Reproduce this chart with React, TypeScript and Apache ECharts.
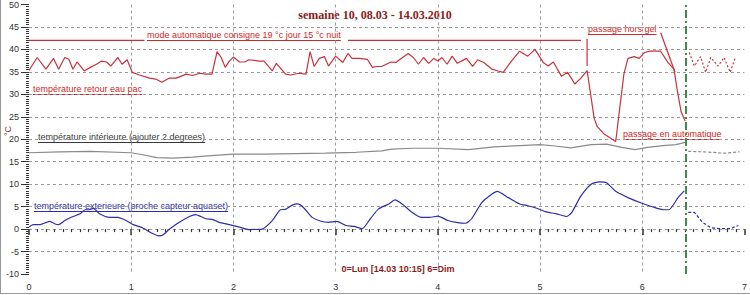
import React, { useEffect, useRef } from "react";
import * as echarts from "echarts";

const titleText = "semaine 10, 08.03 - 14.03.2010";
const footerText = "0=Lun [14.03 10:15] 6=Dim";
const unitText = "°C";

const retour: number[][] = [
  [0, 35.3], [0.08, 38.2], [0.165, 35.6], [0.24, 38.0], [0.29, 35.6], [0.35, 38.2], [0.39, 37.8], [0.43, 35.6],
  [0.47, 37.2], [0.54, 35.2], [0.6, 36.0], [0.66, 36.7], [0.71, 37.4], [0.76, 37.2], [0.8, 36.3], [0.87, 38.2],
  [0.91, 36.7], [0.96, 37.7], [1.01, 34.9], [1.08, 34.3], [1.18, 33.6], [1.24, 33.4], [1.3, 32.7], [1.37, 33.6],
  [1.44, 33.6], [1.54, 34.5], [1.6, 34.2], [1.67, 34.7], [1.73, 34.5], [1.79, 34.5], [1.84, 39.5], [1.88, 38.2],
  [1.92, 36.0], [1.96, 37.4], [2.0, 38.3], [2.06, 37.2], [2.11, 37.2], [2.15, 37.7], [2.25, 37.4], [2.3, 37.4],
  [2.38, 35.2], [2.42, 36.9], [2.51, 34.5], [2.56, 34.3], [2.64, 34.7], [2.71, 34.5], [2.75, 39.5], [2.79, 36.2],
  [2.84, 38.0], [2.89, 38.4], [2.93, 36.3], [3.0, 38.5], [3.07, 37.1], [3.12, 39.1], [3.16, 38.0], [3.23, 38.0],
  [3.31, 37.8], [3.36, 36.0], [3.4, 36.2], [3.45, 36.2], [3.54, 37.2], [3.59, 37.1], [3.63, 37.8], [3.71, 39.1],
  [3.76, 38.2], [3.81, 36.7], [3.86, 38.2], [3.91, 36.9], [3.96, 38.0], [4.0, 37.4], [4.04, 38.2], [4.09, 36.7],
  [4.14, 38.5], [4.19, 36.9], [4.23, 37.4], [4.28, 38.0], [4.34, 36.2], [4.39, 37.7], [4.45, 37.1], [4.53, 35.6],
  [4.59, 35.2], [4.64, 34.9], [4.72, 37.4], [4.8, 39.6], [4.88, 38.5], [4.95, 40.0], [5.03, 37.1], [5.08, 36.3],
  [5.13, 37.2], [5.21, 34.0], [5.27, 34.9], [5.34, 32.3], [5.4, 33.6], [5.46, 35.3], [5.53, 24.6], [5.56, 22.8],
  [5.63, 21.1], [5.74, 19.5], [5.82, 34.5], [5.86, 38.0], [5.92, 38.4], [5.97, 38.0], [6.02, 39.3], [6.07, 39.6],
  [6.18, 39.6], [6.25, 37.1], [6.31, 35.6], [6.34, 31.2], [6.38, 26.1], [6.42, 24.0],
];
const retourForecast: number[][] = [
  [6.46, 39.3], [6.51, 36.3], [6.57, 38.4], [6.62, 34.9], [6.67, 38.2], [6.74, 36.3], [6.8, 38.2], [6.86, 34.9], [6.91, 38.2],
];

const interieure: number[][] = [
  [0, 17.0], [0.3, 17.2], [0.6, 17.3], [1.0, 17.0], [1.1, 16.6], [1.25, 15.9], [1.4, 15.8], [1.6, 16.0],
  [1.75, 16.3], [2.0, 16.7], [2.3, 16.7], [2.6, 16.8], [2.9, 16.9], [3.2, 17.1], [3.45, 17.4], [3.55, 17.8],
  [3.75, 18.0], [4.0, 18.0], [4.3, 17.7], [4.55, 18.3], [4.8, 18.6], [5.0, 18.8], [5.15, 18.5], [5.3, 18.1],
  [5.5, 18.8], [5.65, 18.9], [5.8, 18.2], [5.93, 17.7], [6.05, 18.2], [6.2, 18.6], [6.33, 18.8], [6.42, 19.3],
];
const interieureForecast: number[][] = [[6.45, 17.3], [6.6, 17.2], [6.8, 16.9], [6.95, 17.2]];

const exterieure: number[][] = [
  [0, 0.45], [0.04, 1.0], [0.11, 1.0], [0.17, 1.5], [0.2, 1.7], [0.25, 1.2], [0.29, 1.0], [0.35, 1.9],
  [0.43, 2.8], [0.5, 3.4], [0.55, 4.3], [0.59, 4.3], [0.63, 4.6], [0.69, 3.4], [0.79, 2.6], [0.87, 2.6],
  [0.95, 1.9], [1.02, 1.0], [1.11, 0.3], [1.21, -1.0], [1.27, -1.5], [1.31, -1.3], [1.37, -0.1], [1.47, 1.5],
  [1.57, 2.8], [1.63, 3.2], [1.68, 2.8], [1.73, 2.3], [1.8, 2.1], [1.86, 1.5], [1.96, 1.0], [2.06, 0.45],
  [2.15, -0.1], [2.28, 0], [2.38, 1.9], [2.46, 4.3], [2.51, 4.4], [2.58, 5.4], [2.63, 5.6], [2.69, 4.7],
  [2.77, 2.6], [2.85, 1.8], [2.93, 1.5], [3.01, 1.7], [3.1, 0.8], [3.18, 0.6], [3.26, 0.1], [3.34, 2.3],
  [3.42, 4.5], [3.52, 5.6], [3.58, 6.5], [3.65, 5.6], [3.75, 3.7], [3.84, 2.6], [3.92, 2.6], [4.0, 2.9],
  [4.1, 1.9], [4.18, 1.5], [4.27, 1.3], [4.33, 2.3], [4.43, 5.9], [4.53, 7.8], [4.58, 8.4], [4.69, 7.0],
  [4.8, 5.6], [4.88, 5.2], [4.96, 4.7], [5.05, 3.9], [5.16, 3.4], [5.26, 2.8], [5.31, 3.7], [5.4, 7.4],
  [5.5, 10.0], [5.58, 10.5], [5.65, 10.3], [5.74, 8.4], [5.86, 7.0], [5.99, 5.8], [6.12, 4.8], [6.21, 4.3],
  [6.26, 4.3], [6.35, 7.0], [6.41, 8.5],
];
const exterieureForecast: number[][] = [
  [6.45, 3.7], [6.51, 3.7], [6.59, 1.5], [6.67, 0.3], [6.75, 0.1], [6.86, 0.1], [6.94, 0.8],
];

const modeLineA: number[][] = [[0, 42], [1.13, 42]];
const modeLineB: number[][] = [[3.12, 42], [5.4, 42]];
const horsGelPointerA: number[][] = [[5.46, 42.4], [5.46, 36.3]];
const horsGelPointerB: number[][] = [[6.18, 43.7], [6.32, 34.9]];
const nowDay = 6.427;

const RED = "#c8323c";
const RED_TEXT = "#d02828";
const DARK_RED = "#8b1a1a";
const BLUE = "#2e2ea8";
const GRAY = "#8a8a8a";
const GREEN = "#3c8c4c";

const annotations = [
  { text: "mode automatique consigne 19 °c jour 15 °c nuit", x: 147, y: 35, color: RED_TEXT },
  { text: "température retour eau pac", x: 33, y: 89, color: RED_TEXT },
  { text: "température intérieure (ajouter 2 degrees)", x: 38, y: 137, color: "#3a3a3a" },
  { text: "température exterieure (proche capteur aquaset)", x: 34, y: 206, color: BLUE },
  { text: "passage hors gel", x: 588, y: 29, color: RED_TEXT },
  { text: "passage en automatique", x: 623, y: 134, color: RED_TEXT },
];

const FONT = '9px "Liberation Sans", Arial, sans-serif';

function measure(t: string, font: string): number {
  const ctx = document.createElement("canvas").getContext("2d");
  if (!ctx) return t.length * 4.5;
  ctx.font = font;
  return ctx.measureText(t).width;
}

export default function App() {
  const ref = useRef<HTMLDivElement>(null);
  useEffect(() => {
    if (!ref.current) return;
    const chart = echarts.init(ref.current, undefined, { renderer: "svg" });
    const graphics: any[] = [];
    annotations.forEach((a) => {
      const w = measure(a.text, FONT);
      graphics.push({
        type: "text",
        x: a.x,
        y: a.y,
        style: { text: a.text, fill: a.color, font: FONT, verticalAlign: "middle", textVerticalAlign: "middle" },
      });
      graphics.push({
        type: "line",
        shape: { x1: a.x, y1: a.y + 5.5, x2: a.x + w, y2: a.y + 5.5 },
        style: { stroke: a.color, lineWidth: 1 },
      });
    });
    graphics.push({
      type: "text",
      x: 375,
      y: 15,
      style: {
        text: titleText,
        fill: DARK_RED,
        font: 'bold 12px "Liberation Serif", "Times New Roman", serif',
        align: "center",
        textAlign: "center",
        verticalAlign: "middle",
        textVerticalAlign: "middle",
      },
    });
    graphics.push({
      type: "text",
      x: 398,
      y: 269,
      style: {
        text: footerText,
        fill: DARK_RED,
        font: 'bold 9px "Liberation Sans", Arial, sans-serif',
        align: "center",
        textAlign: "center",
        verticalAlign: "middle",
        textVerticalAlign: "middle",
      },
    });
    graphics.push({
      type: "text",
      x: 8,
      y: 131,
      rotation: Math.PI / 2,
      style: {
        text: unitText,
        fill: DARK_RED,
        font: '9px "Liberation Sans", Arial, sans-serif',
        align: "center",
        textAlign: "center",
        verticalAlign: "middle",
        textVerticalAlign: "middle",
      },
    });
    graphics.push({ type: "line", shape: { x1: 0.5, y1: 0, x2: 0.5, y2: 293.5 }, style: { stroke: "#9a9a9a", lineWidth: 1 } });
    graphics.push({ type: "line", shape: { x1: 0, y1: 293.5, x2: 750, y2: 293.5 }, style: { stroke: "#9a9a9a", lineWidth: 1 } });

    const lineSeries = (data: number[][], color: string, type: any = "solid", width = 1.2, z = 2) => ({
      type: "line",
      data,
      symbol: "none",
      silent: true,
      z,
      lineStyle: { color, width, type },
    });

    chart.setOption({
      animation: false,
      grid: { left: 29, right: 3, top: 1.2, bottom: 21 },
      xAxis: {
        type: "value",
        min: 0,
        max: 7,
        interval: 1,
        axisLine: { show: false },
        axisTick: { show: true, length: 6, lineStyle: { color: "#333", width: 1.5 } },
        minorTick: { show: true, splitNumber: 12, length: 3, lineStyle: { color: "#333", width: 1.2 } },
        axisLabel: { margin: 8, fontSize: 9, color: "#333", fontFamily: "Liberation Sans" },
        splitLine: {
          show: true,
          showMinLine: false,
          showMaxLine: false,
          lineStyle: { color: "#9a9a9a", type: [3, 3], width: 1 },
        },
      },
      yAxis: {
        type: "value",
        min: -10,
        max: 50,
        interval: 5,
        axisLine: { show: false },
        axisTick: { show: true, length: 8, lineStyle: { color: "#333", width: 1 } },
        minorTick: { show: true, splitNumber: 10, length: 3, lineStyle: { color: "#333", width: 1 } },
        axisLabel: { margin: 10, fontSize: 9, color: "#333", fontFamily: "Liberation Sans" },
        splitLine: {
          show: true,
          showMinLine: false,
          showMaxLine: false,
          lineStyle: { color: "#9a9a9a", type: [3, 3], width: 1 },
        },
      },
      graphic: graphics,
      series: [
        {
          ...lineSeries(retour, RED, "solid", 1.2, 3),
          markLine: {
            silent: true,
            symbol: "none",
            label: { show: false },
            lineStyle: { color: GREEN, width: 2, type: [8, 3, 2, 3] },
            data: [{ xAxis: nowDay }],
          },
        },
        lineSeries(retourForecast, RED, [2, 2], 1.2),
        lineSeries(interieure, GRAY, "solid", 1.2),
        lineSeries(interieureForecast, GRAY, [3, 2], 1.2),
        { ...lineSeries(exterieure, BLUE, "solid", 1.2), smooth: 0.2 },
        lineSeries(exterieureForecast, BLUE, [3, 2], 1.2),
        lineSeries(modeLineA, RED, "solid", 1.2),
        lineSeries(modeLineB, RED, "solid", 1.2),
        lineSeries(horsGelPointerA, RED, "solid", 1.2),
        lineSeries(horsGelPointerB, RED, "solid", 1.2),
      ],
    });
    return () => chart.dispose();
  }, []);
  return <div ref={ref} style={{ position: "absolute", left: 0, top: 0, width: 750, height: 295, background: "#fff" }} />;
}
